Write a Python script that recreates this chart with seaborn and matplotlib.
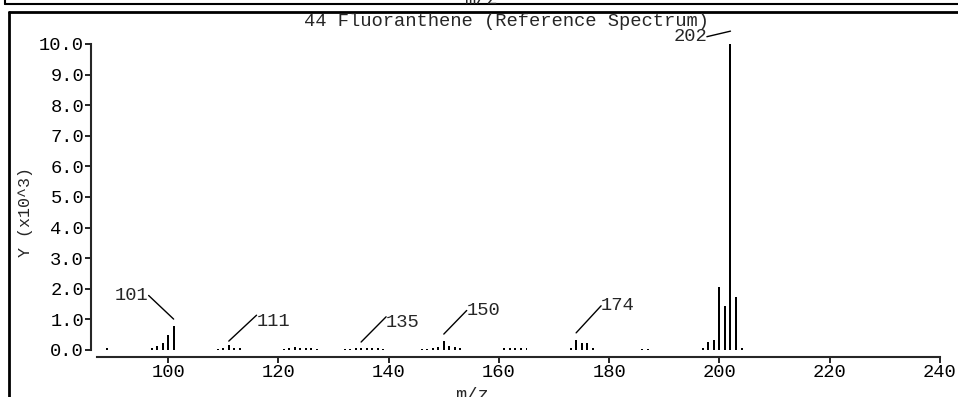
import matplotlib
matplotlib.use("Agg")
import matplotlib.pyplot as plt
from matplotlib.lines import Line2D
import seaborn as sns

# peak list (m/z, intensity in units of 10^3)
mz = [89, 97, 98, 99, 100, 101,
      109, 110, 111, 112, 113,
      121, 122, 123, 124, 125, 126, 127,
      132, 133, 134, 135, 136, 137, 138, 139,
      146, 147, 148, 149, 150, 151, 152, 153,
      161, 162, 163, 164, 165,
      173, 174, 175, 176, 177,
      186, 187,
      197, 198, 199, 200, 201, 202, 203, 204]
intensity = [0.05, 0.05, 0.12, 0.22, 0.50, 0.77,
             0.04, 0.06, 0.15, 0.07, 0.06,
             0.04, 0.05, 0.10, 0.05, 0.08, 0.05, 0.04,
             0.04, 0.04, 0.05, 0.08, 0.06, 0.05, 0.05, 0.04,
             0.04, 0.04, 0.05, 0.10, 0.30, 0.13, 0.10, 0.05,
             0.05, 0.05, 0.05, 0.05, 0.05,
             0.08, 0.33, 0.23, 0.23, 0.08,
             0.04, 0.04,
             0.05, 0.25, 0.33, 2.06, 1.45, 10.0, 1.72, 0.08]

labelled_mz = [101, 111, 135, 150, 174, 202]

title = "44 Fluoranthene (Reference Spectrum)"
x_ticks = [100, 120, 140, 160, 180, 200, 220, 240]
y_ticks = [0, 1, 2, 3, 4, 5, 6, 7, 8, 9, 10]

# label leader-line layout: gap above the peak (data units), text offset (points), alignment
label_gap = {101: 0.24, 111: 0.14, 135: 0.18, 150: 0.22, 174: 0.23, 202: 0.42}
label_offset = {101: (-18, 17), 111: (20, 20.5), 135: (18, 20), 150: (16.5, 17), 174: (18, 19.5), 202: (-17, -4)}
label_align = {101: ("right", "center"), 111: ("left", "top"), 135: ("left", "top"),
               150: ("left", "center"), 174: ("left", "center"), 202: ("right", "center")}

sns.set_style("ticks")
plt.rcParams["font.family"] = ["Liberation Mono", "DejaVu Sans Mono"]
plt.rcParams["font.size"] = 13.5

W, H = 958, 397
fig = plt.figure(figsize=(W / 100, H / 100), dpi=100)
ax = fig.add_axes([97 / W, (H - 350) / H, (940 - 97) / W, 306 / H])

sns.histplot(x=mz, weights=intensity, discrete=True, shrink=0.36, color="black",
             alpha=1, edgecolor="none", linewidth=0, ax=ax)

ax.set_xlim(87.1, 240)
ax.set_ylim(0, 10)
ax.set_xticks(x_ticks)
ax.set_yticks(y_ticks)
ax.set_yticklabels([f"{v:.1f}" for v in y_ticks])
ax.set_xlabel("")
ax.set_ylabel("Y (x10^3)", fontsize=12)
ax.yaxis.set_label_coords(-0.076, 0.45)

for side in ["top", "right"]:
    ax.spines[side].set_visible(False)
ax.spines["left"].set_position(("outward", 4.3))
ax.spines["bottom"].set_position(("outward", 5))
ax.spines["left"].set_bounds(0, 10)
for sp in ["left", "bottom"]:
    ax.spines[sp].set_linewidth(1.5)
ax.tick_params(axis="both", width=1.2, length=4, pad=1, colors="black")

peak = dict(zip(mz, intensity))
for m in labelled_mz:
    ha, va = label_align[m]
    rel = ({"left": 0, "right": 1}[ha], {"top": 0.85, "center": 0.5}[va])
    ax.annotate(str(m), xy=(m, peak[m] + label_gap[m]), xytext=label_offset[m],
                textcoords="offset points", ha=ha, va=va, annotation_clip=False,
                arrowprops=dict(arrowstyle="-", color="black", lw=1, relpos=rel,
                                patchA=None, shrinkA=0, shrinkB=0))

fig.text(507 / W, 1 - 21 / H, title, ha="center", va="center")
fig.text(472 / W, 1 - 396 / H, "m/z", ha="center", va="center")

# panel frame and the cut-off bottom of the previous panel
fig.text(481 / W, 1 - 0 / H, "m/z", ha="center", va="center")
fig.add_artist(Line2D([5 / W, 1], [1 - 4 / H, 1 - 4 / H], transform=fig.transFigure, color="black", lw=1.5))
fig.add_artist(Line2D([5 / W, 5 / W], [1, 1 - 4 / H], transform=fig.transFigure, color="black", lw=1.5))
fig.add_artist(Line2D([9 / W, 1], [1 - 12 / H, 1 - 12 / H], transform=fig.transFigure, color="black", lw=2))
fig.add_artist(Line2D([9 / W, 9 / W], [1 - 12 / H, 0], transform=fig.transFigure, color="black", lw=2))

fig.savefig("out.png", dpi=100)
plt.close(fig)
